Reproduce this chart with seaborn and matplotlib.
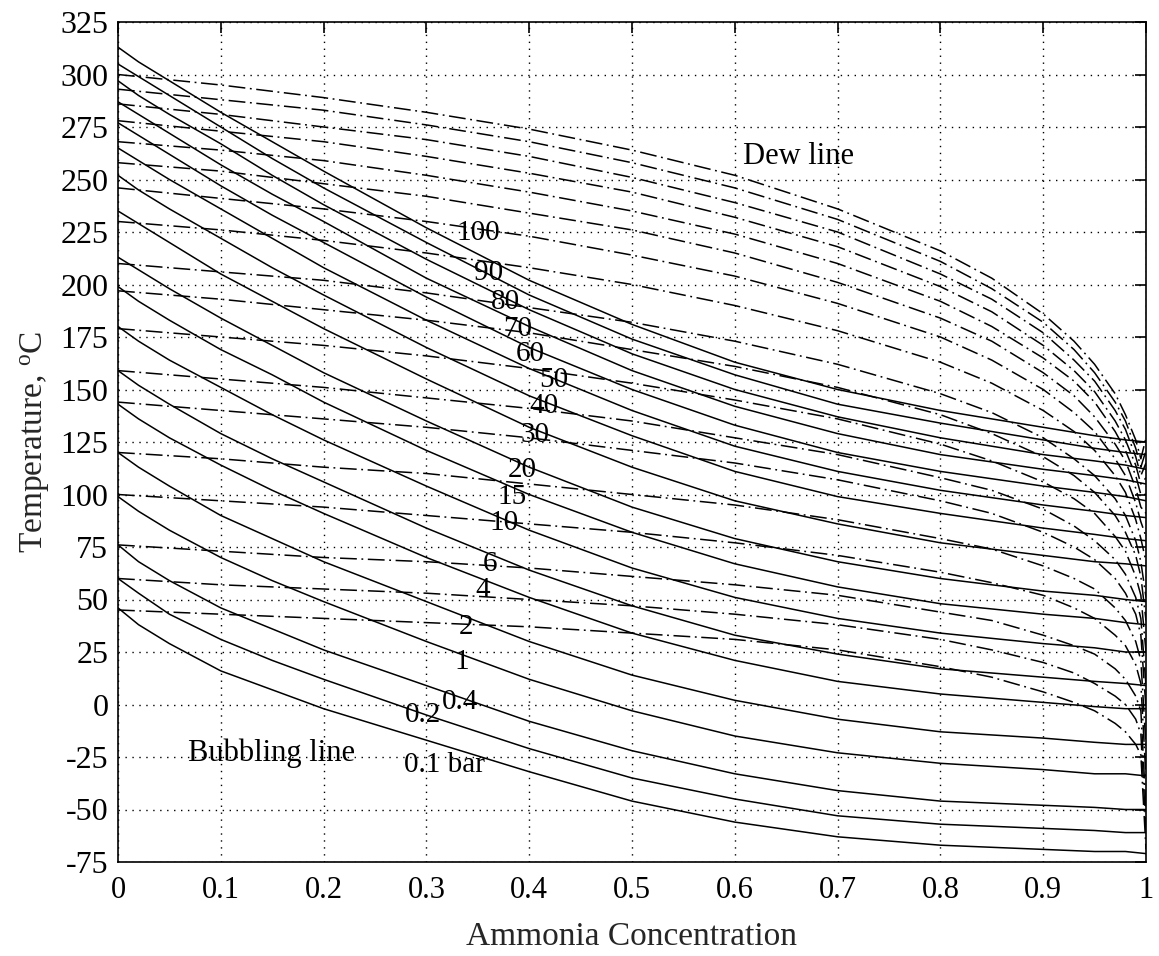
import matplotlib
matplotlib.use("Agg")
import matplotlib.pyplot as plt
import seaborn as sns
import pandas as pd

# ---------------- data ----------------
pressures = [0.1, 0.2, 0.4, 1, 2, 4, 6, 10, 15, 20, 30, 40, 50, 60, 70, 80, 90, 100]

# bubbling (saturated liquid) lines, temperature in deg C
x_bubble = [0, 0.02, 0.05, 0.1, 0.15, 0.2, 0.3, 0.4, 0.5, 0.6, 0.7, 0.8, 0.9, 0.95, 0.98, 1.0]
T_bubble = [
    [46, 38, 29, 16, 7, -2, -17, -32, -46, -56, -63, -67, -69, -70, -70, -71],
    [60, 53, 43, 31, 21, 12, -5, -21, -35, -45, -53, -57, -59, -60, -61, -61],
    [76, 68, 59, 46, 36, 26, 9, -8, -22, -33, -41, -46, -48, -49, -50, -50],
    [99, 92, 83, 70, 59, 49, 30, 12, -3, -15, -23, -28, -31, -33, -33, -34],
    [120, 113, 104, 90, 79, 68, 49, 30, 14, 2, -7, -13, -16, -18, -19, -19],
    [143, 136, 127, 114, 102, 91, 70, 51, 34, 21, 11, 5, 1, -1, -2, -2],
    [159, 152, 143, 129, 117, 106, 84, 64, 47, 33, 24, 17, 13, 11, 10, 9],
    [180, 173, 164, 151, 138, 126, 104, 83, 65, 51, 41, 34, 29, 27, 25, 25],
    [199, 192, 183, 169, 157, 144, 121, 100, 82, 67, 56, 48, 43, 41, 39, 38],
    [213, 207, 198, 184, 171, 158, 135, 113, 94, 79, 68, 60, 54, 52, 50, 49],
    [235, 229, 220, 205, 192, 179, 155, 132, 113, 97, 86, 77, 71, 68, 67, 66],
    [252, 245, 236, 222, 208, 195, 170, 147, 128, 111, 99, 91, 84, 81, 79, 78],
    [265, 259, 250, 236, 222, 208, 183, 160, 140, 123, 111, 102, 95, 92, 90, 89],
    [277, 271, 262, 247, 233, 220, 194, 170, 150, 133, 120, 111, 104, 101, 99, 97],
    [287, 281, 272, 257, 243, 230, 203, 180, 159, 142, 129, 119, 112, 109, 107, 105],
    [297, 290, 281, 267, 252, 238, 212, 188, 167, 150, 137, 127, 119, 116, 114, 112],
    [305, 299, 290, 275, 260, 246, 220, 195, 174, 157, 143, 134, 126, 122, 120, 119],
    [313, 306, 297, 282, 268, 254, 227, 202, 181, 163, 150, 140, 132, 128, 126, 125],
]

# dew (saturated vapour) lines, temperature in deg C
x_dew = [0, 0.1, 0.2, 0.3, 0.4, 0.5, 0.6, 0.7, 0.8, 0.85, 0.9, 0.93, 0.95, 0.97, 0.98, 0.99, 0.995, 1.0]
T_dew = [
    [45, 43, 41, 39, 37, 34, 31, 26, 18, 13, 6, 1, -3, -9, -13, -19, -24, -69],
    [60, 57, 55, 53, 50, 47, 43, 38, 31, 26, 20, 15, 10, 4, 0, -7, -14, -60],
    [76, 73, 70, 68, 65, 61, 57, 52, 44, 40, 33, 28, 24, 17, 12, 4, -3, -50],
    [100, 97, 94, 90, 86, 82, 77, 71, 63, 58, 52, 46, 41, 33, 28, 19, 10, -35],
    [120, 117, 113, 110, 105, 100, 95, 88, 79, 74, 66, 60, 55, 46, 40, 30, 21, -20],
    [144, 140, 136, 132, 127, 121, 115, 107, 97, 91, 82, 75, 69, 60, 53, 43, 33, -2],
    [159, 155, 151, 146, 141, 135, 127, 119, 108, 102, 93, 85, 78, 69, 62, 51, 41, 9],
    [179, 175, 171, 166, 160, 153, 145, 136, 124, 116, 106, 98, 91, 80, 73, 61, 52, 25],
    [197, 193, 188, 183, 177, 169, 161, 151, 138, 129, 118, 109, 101, 90, 82, 71, 61, 40],
    [210, 206, 202, 196, 189, 182, 173, 162, 148, 139, 127, 117, 109, 98, 90, 78, 68, 51],
    [230, 226, 221, 215, 208, 200, 190, 178, 163, 153, 140, 130, 121, 109, 101, 88, 79, 68],
    [246, 241, 236, 230, 223, 214, 204, 191, 175, 164, 150, 139, 130, 117, 109, 96, 87, 80],
    [258, 254, 248, 242, 234, 226, 215, 201, 184, 173, 158, 147, 137, 124, 116, 103, 94, 91],
    [268, 264, 259, 252, 244, 235, 224, 210, 192, 180, 165, 154, 144, 130, 121, 109, 100, 100],
    [278, 273, 268, 261, 253, 244, 232, 218, 199, 187, 171, 159, 149, 135, 126, 114, 105, 108],
    [286, 281, 275, 269, 261, 251, 239, 225, 205, 193, 177, 164, 154, 140, 131, 118, 109, 115],
    [293, 288, 283, 276, 268, 258, 246, 231, 211, 198, 182, 169, 158, 144, 135, 122, 113, 121],
    [300, 295, 289, 282, 274, 264, 252, 236, 216, 203, 186, 173, 162, 148, 138, 126, 117, 127],
]

# pressure labels and where they sit on the chart
pressure_labels = ["100", "90", "80", "70", "60", "50", "40", "30", "20", "15", "10",
                   "6", "4", "2", "1", "0.4", "0.2", "0.1 bar"]
label_x = [0.350, 0.360, 0.377, 0.389, 0.401, 0.424, 0.414, 0.406, 0.393, 0.383, 0.375,
           0.362, 0.355, 0.339, 0.334, 0.333, 0.297, 0.318]
label_T = [224.4, 205.3, 191.8, 179.0, 166.8, 154.6, 142.0, 128.3, 111.7, 99.0, 86.3,
           67.1, 54.5, 37.1, 20.4, 1.4, -5.0, -28.8]

x_ticks = [0, 0.1, 0.2, 0.3, 0.4, 0.5, 0.6, 0.7, 0.8, 0.9, 1.0]
x_tick_labels = ["0", "0.1", "0.2", "0.3", "0.4", "0.5", "0.6", "0.7", "0.8", "0.9", "1"]
y_ticks = list(range(-75, 326, 25))

# ---------------- build long tables ----------------
bub_rows = []
for p, temps in zip(pressures, T_bubble):
    for x, t in zip(x_bubble, temps):
        bub_rows.append({"x": x, "T": t, "p": p})
df_bub = pd.DataFrame(bub_rows)

dew_rows = []
for p, temps in zip(pressures, T_dew):
    for x, t in zip(x_dew, temps):
        dew_rows.append({"x": x, "T": t, "p": p})
df_dew = pd.DataFrame(dew_rows)

# ---------------- style ----------------
sns.set_style("white")
serif = ["Liberation Serif", "DejaVu Serif"]
plt.rcParams["font.family"] = serif
plt.rcParams["mathtext.fontset"] = "custom"
plt.rcParams["mathtext.rm"] = "Liberation Serif"
plt.rcParams["mathtext.it"] = "Liberation Serif:italic"

fig = plt.figure(figsize=(11.59, 9.56), dpi=100)
ax = fig.add_axes([118 / 1159, 1 - 862 / 956, (1146 - 118) / 1159, (862 - 22) / 956])

sns.lineplot(data=df_bub, x="x", y="T", units="p", estimator=None, sort=False,
             color="black", linewidth=1.1, legend=False, ax=ax)
n_b = len(ax.lines)
sns.lineplot(data=df_dew, x="x", y="T", units="p", estimator=None, sort=False,
             color="black", linewidth=1.1, legend=False, ax=ax)
for ln in ax.lines[n_b:]:
    ln.set_linestyle((0, (11, 3, 1.2, 3)))

ax.set_xlim(0, 1)
ax.set_ylim(-75, 325)
ax.set_xticks(x_ticks)
ax.set_xticklabels(x_tick_labels)
ax.set_yticks(y_ticks)
ax.set_yticklabels([str(v) for v in y_ticks])

ax.grid(True, color="black", linestyle=(0, (1, 4)), linewidth=1.0)
ax.tick_params(axis="both", direction="in", length=8, width=1.2, labelsize=22,
               top=True, right=True, colors="black")
ax.tick_params(axis="y", labelsize=23, pad=7)
ax.tick_params(axis="x", pad=10)
for s in ax.spines.values():
    s.set_color("black")
    s.set_linewidth(1.2)

ax.set_xlabel("Ammonia Concentration", fontsize=24, labelpad=12)
ax.set_ylabel(r"Temperature, $^{\mathrm{o}}$C", fontsize=24, labelpad=6)

for lab, lx, lt in zip(pressure_labels, label_x, label_T):
    ax.text(lx, lt, lab, fontsize=21, ha="center", va="center", color="black")

ax.text(0.608, 261, "Dew line", fontsize=22, ha="left", va="center", color="black")
ax.text(0.068, -23, "Bubbling line", fontsize=22, ha="left", va="center", color="black")

fig.savefig("out.png", dpi=100)
